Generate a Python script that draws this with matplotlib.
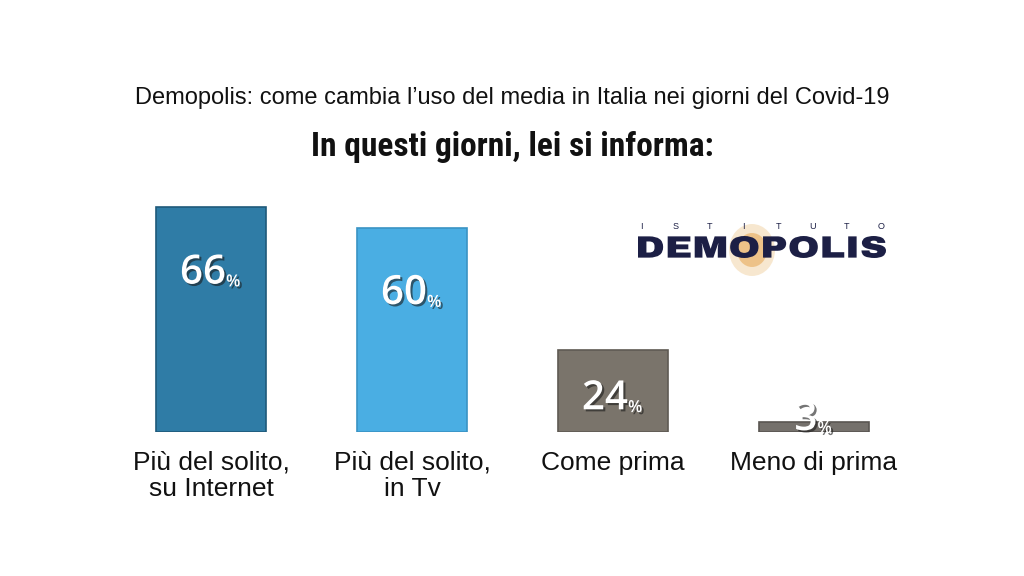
import matplotlib
matplotlib.use("Agg")
import numpy as np
import matplotlib.pyplot as plt
import matplotlib.patheffects as pe
from matplotlib.patches import Ellipse, PathPatch
from matplotlib.textpath import TextPath
from matplotlib.font_manager import FontProperties
from matplotlib.transforms import Affine2D

# dati
categorie = ["Più del solito,\nsu Internet", "Più del solito,\nin Tv", "Come prima", "Meno di prima"]
valori = [66, 60, 24, 3]
colori = ["#2f7ca6", "#4aaee3", "#7a746b", "#75716c"]
bordi = ["#1f5a7a", "#3a93c4", "#5f5a53", "#5a5652"]

sottotitolo = "Demopolis: come cambia l\u2019uso del media in Italia nei giorni del Covid-19"
titolo = "In questi giorni, lei si informa:"

W, H = 1024, 576
fig = plt.figure(figsize=(W / 100, H / 100), dpi=100)
fig.patch.set_facecolor("white")

ax = fig.add_axes([0.108, 0.25, 0.785, 0.414])
x = list(range(len(valori)))
ax.bar(x, valori, width=0.55, color=colori, edgecolor=bordi, linewidth=1.2)
ax.set_xlim(-0.5, 3.5)
ax.set_ylim(0, 70)
ax.axis("off")

ombra = [pe.withSimplePatchShadow(offset=(1.5, -1.5), shadow_rgbFace="#1a1a1a", alpha=0.6)]
for xi, v, cat in zip(x, valori, categorie):
    y = max(v - 19.5, v * 0.4, 3.5)
    t = ax.text(xi - 0.04, y, str(v), ha="center", va="center", color="white",
                fontsize=29, fontweight=600, family=["Open Sans", "DejaVu Sans"])
    t.set_path_effects(ombra)
    p = ax.annotate("%", xy=(1, 0.08), xycoords=t, ha="left", va="bottom", color="white",
                    fontsize=12, fontweight=600, family=["Open Sans", "DejaVu Sans"])
    p.set_path_effects(ombra)
    # etichette categorie
    ax.text(xi, -5.5, cat, ha="center", va="top", fontsize=19,
            color="#111111", family=["Liberation Sans", "DejaVu Sans"], linespacing=1.1)

fig.text(0.5, 0.829, sottotitolo, ha="center", va="center", fontsize=17,
         color="#111111", family=["Liberation Sans", "DejaVu Sans"])
fig.text(0.5, 0.745, titolo, ha="center", va="center", fontsize=24, fontweight="bold",
         color="#111111", family=["Roboto Condensed", "DejaVu Sans"])

# logo
fig.add_artist(Ellipse((752 / W, 1 - 250 / H), 46 / W, 52 / H,
                       transform=fig.transFigure, color="#f6e2c4", alpha=0.8, lw=0, zorder=1))
fig.add_artist(Ellipse((752 / W, 1 - 250 / H), 30 / W, 34 / H,
                       transform=fig.transFigure, color="#eab36a", alpha=0.7, lw=0, zorder=1))
for lx, lettera in zip(np.linspace(641, 881, 8), "ISTITUTO"):
    fig.text(lx / W, 0.607, lettera, ha="center", va="center", fontsize=6.5,
             color="#1c1f45", family=["Liberation Sans", "DejaVu Sans"], zorder=3)

fp = FontProperties(family=["Archivo Black", "DejaVu Sans"], weight="heavy")
tp = TextPath((0, 0), "DEMOPOLIS", size=50, prop=fp)
ext = tp.get_extents()
sx = (886 - 638) / ext.width
sy = (258 - 236) / ext.height
tr = Affine2D().translate(-ext.x0, -ext.y0).scale(sx, sy).translate(638, H - 258)
fig.add_artist(PathPatch(tr.transform_path(tp), transform=None, facecolor="#1c1f45",
                         lw=0, zorder=3))

fig.savefig("out.png", dpi=100, facecolor="white")
